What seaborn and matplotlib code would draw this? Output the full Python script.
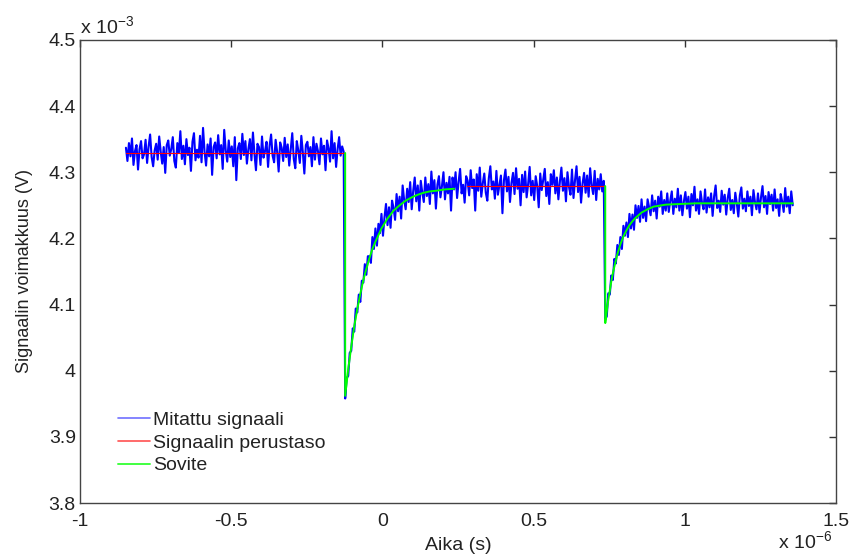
import numpy as np
import pandas as pd
import matplotlib
matplotlib.use("Agg")
import matplotlib.pyplot as plt
from matplotlib.lines import Line2D
import seaborn as sns
from matplotlib.ticker import FuncFormatter

# Sampling of the measured trace (time in units of 1e-6 s)
T_START = -0.848
T_STEP = 0.005

# Measured signal, in units of 1e-6 V, three stretches between the two drops
signal_before = [
    4337, 4317, 4344, 4324, 4351, 4311, 4332, 4341, 4304, 4335,
    4347, 4321, 4327, 4349, 4314, 4339, 4357, 4323, 4309, 4333,
    4343, 4319, 4354, 4331, 4313, 4338, 4299, 4341, 4348, 4325,
    4335, 4353, 4317, 4307, 4344, 4329, 4362, 4320, 4340, 4312,
    4350, 4326, 4337, 4302, 4346, 4359, 4318, 4334, 4322, 4355,
    4315, 4367, 4331, 4310, 4342, 4324, 4351, 4296, 4338, 4345,
    4321, 4356, 4327, 4341, 4305, 4364, 4333, 4316, 4348, 4323,
    4339, 4309, 4353, 4288, 4336, 4344, 4320, 4358, 4326, 4347,
    4313, 4335, 4350, 4318, 4360, 4328, 4303, 4343, 4338, 4311,
    4354, 4322, 4332, 4346, 4308, 4340, 4357, 4325, 4315, 4349,
    4331, 4301, 4345, 4337, 4317, 4352, 4323, 4342, 4310, 4334,
    4359, 4320, 4306, 4347, 4333, 4314, 4355, 4330, 4298, 4341,
    4346, 4324, 4338, 4309, 4353, 4319, 4343, 4332, 4312, 4351,
    4327, 4340, 4303, 4348, 4336, 4316, 4362, 4321, 4344, 4308,
    4335, 4353, 4325, 4339, 4331,
]
signal_middle = [
    3958, 3989, 3992, 4027, 4030, 4064, 4059, 4094, 4088, 4115,
    4104, 4136, 4133, 4161, 4145, 4173, 4173, 4163, 4202, 4184,
    4215, 4189, 4222, 4208, 4237, 4204, 4232, 4252, 4220, 4247,
    4216, 4257, 4246, 4228, 4267, 4241, 4263, 4230, 4280, 4258,
    4244, 4275, 4255, 4285, 4244, 4272, 4292, 4256, 4280, 4242,
    4287, 4269, 4255, 4292, 4264, 4282, 4252, 4301, 4268, 4288,
    4245, 4281, 4294, 4262, 4279, 4300, 4259, 4284, 4268, 4293,
    4242, 4292, 4274, 4300, 4261, 4285, 4305, 4268, 4281, 4254,
    4294, 4287, 4265, 4303, 4276, 4289, 4242, 4297, 4272, 4307,
    4263, 4283, 4298, 4269, 4257, 4291, 4309, 4274, 4286, 4260,
    4302, 4266, 4280, 4295, 4238, 4288, 4304, 4271, 4293, 4255,
    4284, 4299, 4267, 4306, 4275, 4290, 4250, 4296, 4270, 4301,
    4262, 4282, 4308, 4265, 4287, 4258, 4294, 4279, 4247, 4298,
    4273, 4289, 4305, 4264, 4285, 4252, 4297, 4281, 4303, 4268,
    4292, 4259, 4286, 4307, 4272, 4291, 4256, 4300, 4278, 4266,
    4304, 4261, 4288, 4309, 4270, 4293, 4254, 4283, 4299, 4269,
    4295, 4263, 4306, 4280, 4267, 4302, 4258, 4290, 4274, 4297,
    4271, 4287,
]
signal_after = [
    4078, 4082, 4117, 4115, 4144, 4137, 4169, 4162, 4190, 4175,
    4202, 4184, 4219, 4204, 4224, 4202, 4237, 4215, 4236, 4213,
    4250, 4231, 4249, 4225, 4259, 4231, 4248, 4226, 4259, 4247,
    4235, 4265, 4241, 4257, 4230, 4263, 4248, 4271, 4237, 4258,
    4242, 4268, 4240, 4257, 4271, 4237, 4260, 4247, 4275, 4242,
    4265, 4235, 4256, 4270, 4245, 4263, 4232, 4267, 4250, 4278,
    4242, 4259, 4237, 4271, 4254, 4244, 4274, 4239, 4262, 4247,
    4268, 4234, 4264, 4280, 4246, 4257, 4240, 4272, 4251, 4266,
    4236, 4261, 4275, 4243, 4258, 4238, 4269, 4253, 4233, 4265,
    4277, 4245, 4260, 4241, 4271, 4249, 4263, 4235, 4273, 4255,
    4244, 4268, 4239, 4262, 4279, 4247, 4264, 4237, 4270, 4252,
    4266, 4242, 4274, 4246, 4259, 4234, 4267, 4256, 4240, 4276,
    4248, 4263, 4238, 4271, 4250,
]

# Baseline levels (1e-6 V) and the time spans they cover (1e-6 s)
baseline_levels = [4329, 4279]
baseline_spans = [(-0.848, -0.123), (0.280, 0.737)]

# Fitted recovery curves (time in 1e-6 s, level in 1e-6 V)
fit1_t = [-0.123, -0.123, -0.113, -0.103, -0.093, -0.083, -0.073, -0.063,
          -0.053, -0.043, -0.033, -0.023, -0.003, 0.017, 0.037, 0.057,
          0.077, 0.097, 0.117, 0.137, 0.157, 0.177, 0.207, 0.237]
fit1_v = [4329, 3962, 4002, 4036, 4067, 4093, 4116, 4137,
          4154, 4170, 4184, 4195, 4215, 4230, 4242, 4250,
          4257, 4262, 4266, 4269, 4271, 4272, 4274, 4275]
fit2_t = [0.737, 0.737, 0.742, 0.747, 0.752, 0.757, 0.762, 0.767,
          0.777, 0.787, 0.797, 0.807, 0.817, 0.827, 0.837, 0.857,
          0.877, 0.897, 0.937, 0.987, 1.037, 1.137, 1.237, 1.357]
fit2_v = [4279, 4072, 4090, 4107, 4121, 4135, 4147, 4157,
          4176, 4191, 4203, 4212, 4220, 4226, 4231, 4239,
          4244, 4248, 4251, 4252, 4253, 4253, 4253, 4253]

x_ticks = [-1, -0.5, 0, 0.5, 1, 1.5]
y_ticks = [3.8, 3.9, 4.0, 4.1, 4.2, 4.3, 4.4, 4.5]
legend_labels = ["Mitattu signaali", "Signaalin perustaso", "Sovite"]

# ---------------------------------------------------------------------------
signal = np.array(signal_before + signal_middle + signal_after, dtype=float)
time = T_START + T_STEP * np.arange(signal.size)
measured = pd.DataFrame({"t": time, "v": signal / 1000.0})

sns.set_style("white")
plt.rcParams["font.family"] = ["Liberation Sans", "DejaVu Sans"]
plt.rcParams["mathtext.fontset"] = "custom"
plt.rcParams["mathtext.rm"] = "Liberation Sans"

fig = plt.figure(figsize=(8.57, 5.54), dpi=100)
ax = fig.add_axes([0.0933, 0.092, 0.8822, 0.836])

blue, red, green = "#0000ff", "#ff0000", "#00ff00"
ink = "#222222"

sns.lineplot(data=measured, x="t", y="v", sort=False, estimator=None,
             color=blue, lw=1.5, ax=ax, zorder=2, legend=False)
for lvl, (t0, t1) in zip(baseline_levels, baseline_spans):
    sns.lineplot(x=[t0, t1], y=[lvl / 1000.0, lvl / 1000.0], sort=False,
                 estimator=None, color=red, lw=0.8, ax=ax, zorder=3,
                 legend=False)
for ft, fv in [(fit1_t, fit1_v), (fit2_t, fit2_v)]:
    sns.lineplot(x=ft, y=np.array(fv) / 1000.0, sort=False, estimator=None,
                 color=green, lw=1.4, ax=ax, zorder=4, legend=False)

ax.set_xlim(-1, 1.5)
ax.set_ylim(3.8, 4.5)
ax.set_xticks(x_ticks)
ax.set_yticks(y_ticks)
fmt = FuncFormatter(lambda v, p: f"{round(v, 3):g}")
ax.xaxis.set_major_formatter(fmt)
ax.yaxis.set_major_formatter(fmt)
ax.tick_params(direction="in", length=5, width=1, top=True, right=True,
               colors="#333333", labelcolor=ink, labelsize=14)
ax.tick_params(axis="x", pad=7)
ax.tick_params(axis="y", pad=3)
for s in ax.spines.values():
    s.set_visible(True)
    s.set_color("#444444")
    s.set_linewidth(1.0)

ax.set_xlabel("Aika (s)", fontsize=14, color=ink, labelpad=5)
ax.set_ylabel("Signaalin voimakkuus (V)", fontsize=13, color=ink,
              labelpad=11)

ax.text(0.0, 1.004, r"x 10$^{\mathregular{-3}}$", transform=ax.transAxes,
        ha="left", va="bottom", fontsize=14, color=ink)
ax.text(0.995, -0.099, r"x 10$^{\mathregular{-6}}$", transform=ax.transAxes,
        ha="right", va="baseline", fontsize=14, color=ink)

handles = [Line2D([], [], color="#6f6fff", lw=1.2),
           Line2D([], [], color="#ff5050", lw=1.2),
           Line2D([], [], color="#40ff40", lw=1.4)]
leg = ax.legend(handles, legend_labels, loc="lower left",
                bbox_to_anchor=(0.05, 0.062), frameon=False, fontsize=14,
                handlelength=1.65, handletextpad=0.15, labelspacing=0.26,
                borderpad=0.0, borderaxespad=0.0)
for t in leg.get_texts():
    t.set_color(ink)

fig.savefig("out.png", dpi=100, facecolor="white")
